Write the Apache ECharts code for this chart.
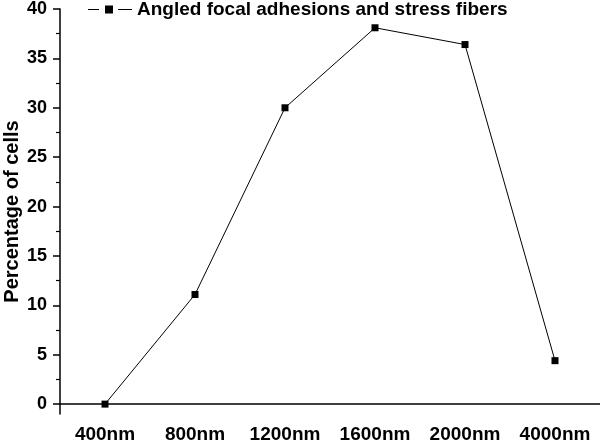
<!DOCTYPE html>
<html><head><meta charset="utf-8">
<script src="https://cdn.jsdelivr.net/npm/echarts@6/dist/echarts.min.js"></script>
<style>html,body{margin:0;padding:0;background:#fff}#c{width:600px;height:442px}</style>
</head><body><div id="c"></div>
<script>
const categories = ['400nm','800nm','1200nm','1600nm','2000nm','4000nm'];
const values = [0, 11.1, 30.0, 38.1, 36.4, 4.4];
const yMajorTicks = [0,5,10,15,20,25,30,35,40];
const yMinorTicks = [2.5,7.5,12.5,17.5,22.5,27.5,32.5,37.5];
const seriesName = 'Angled focal adhesions and stress fibers';
const font = '"Liberation Sans", Arial, sans-serif';
const chart = echarts.init(document.getElementById('c'), null, {renderer:'canvas'});
chart.setOption({
  animation:false,
  backgroundColor:'#fff',
  grid:{left:60, right:0, top:9, bottom:28, containLabel:false, outerBoundsMode:'none'},
  legend:{
    left:88, top:0, padding:0, itemWidth:44, itemHeight:8, itemGap:6,
    icon:'path://M0,3.5h11v1h-11z M17,0h8v8h-8z M30,3.5h14v1h-14z',
    itemStyle:{color:'#000'},
    textStyle:{fontFamily:font, fontWeight:'bold', fontSize:19, color:'#000'},
    data:[{name:seriesName}]
  },
  xAxis:{
    type:'category', data:categories, boundaryGap:true,
    axisLine:{lineStyle:{color:'#000', width:1.5}},
    axisTick:{alignWithLabel:true, length:7, lineStyle:{color:'#000', width:1.5}},
    axisLabel:{interval:0, hideOverlap:false, fontFamily:font, fontWeight:'bold', fontSize:19, color:'#000', margin:11},
    splitLine:{show:false}
  },
  yAxis:[{
    type:'value', min:-1, max:40,
    name:'Percentage of cells', nameLocation:'middle', nameGap:38, nameRotate:90, nameMoveOverlap:false,
    nameTextStyle:{fontFamily:font, fontWeight:'bold', fontSize:20, color:'#000'},
    axisLine:{show:true, lineStyle:{color:'#000', width:1.5}},
    axisTick:{show:true, length:7, customValues:yMajorTicks, lineStyle:{color:'#000', width:1.5}},
    axisLabel:{customValues:yMajorTicks, fontFamily:font, fontWeight:'bold', fontSize:18, color:'#000', margin:13},
    splitLine:{show:false}
  },{
    type:'value', min:-1, max:40, position:'left',
    axisLine:{show:false},
    axisTick:{show:true, length:4, customValues:yMinorTicks, lineStyle:{color:'#000', width:1.2}},
    axisLabel:{show:false, customValues:yMinorTicks},
    splitLine:{show:false}
  }],
  series:[{
    name:seriesName, type:'line', data:values, yAxisIndex:0,
    symbol:'rect', symbolSize:7,
    lineStyle:{color:'#000', width:1},
    itemStyle:{color:'#000'}
  }]
});
</script></body></html>
